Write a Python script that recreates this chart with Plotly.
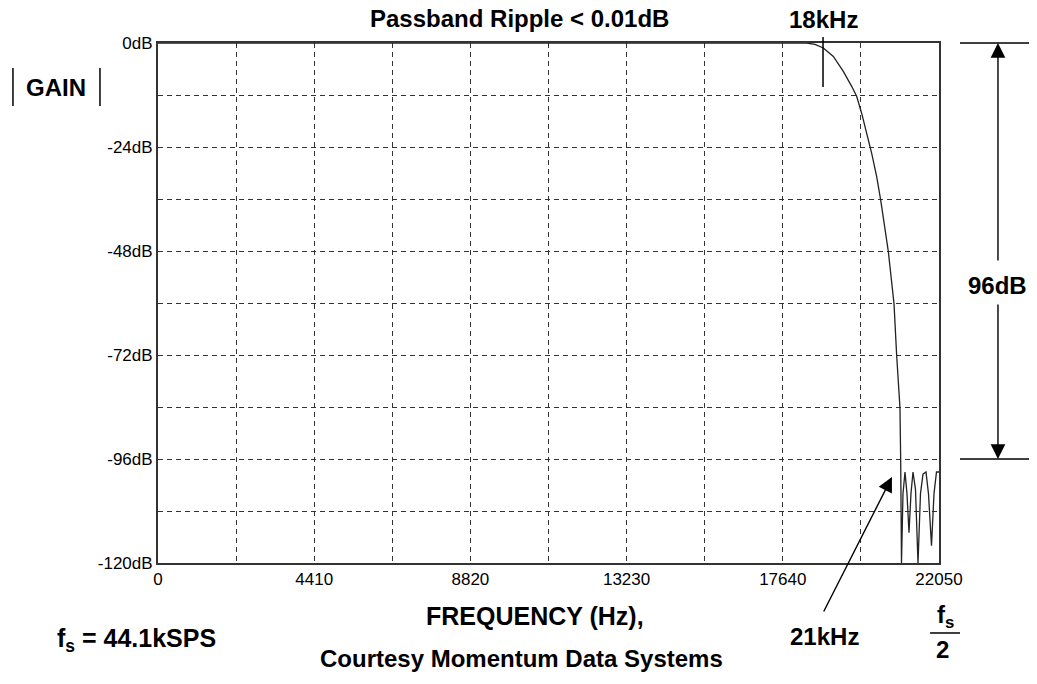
import plotly.graph_objects as go

# FIR lowpass response
freq_hz = [0, 17640, 18313, 18550, 18785, 19067, 19349, 19584, 19725, 19866,
           20007, 20148, 20289, 20403, 20619, 20780, 20855, 20948, 20968,
           20991, 21033, 21090, 21146, 21203, 21259, 21316, 21386, 21457,
           21527, 21598, 21683, 21753, 21838, 21909, 21979, 22050]
gain_db = [0, 0, 0, -0.3, -1.15, -3.1, -6.55, -10.0, -12.3, -16.2,
           -20.8, -25.4, -30.8, -36.2, -48.1, -60.2, -72.1, -84.2, -96.2,
           -120, -104, -99, -104, -113, -104, -99, -103, -120,
           -104, -99.5, -99, -104, -116, -104, -99, -99]

x_ticks = [0, 4410, 8820, 13230, 17640, 22050]
x_labels = [str(v) for v in x_ticks]
y_ticks = [0, -24, -48, -72, -96, -120]
y_labels = [f"{v}dB" for v in y_ticks]

bold = "Liberation Sans, Arial, sans-serif"
ink = "#222222"

fig = go.Figure()
fig.add_trace(go.Scatter(x=freq_hz, y=gain_db, mode="lines",
                         line=dict(color=ink, width=1.3), hoverinfo="skip"))

grid = dict(showgrid=True, gridcolor="#333333", gridwidth=1, griddash="5px,4px")
tick_font = dict(family=bold, size=17, color="black")
fig.update_xaxes(range=[0, 22050], tickvals=x_ticks, ticktext=x_labels, ticks="",
                 showline=True, linecolor="#333333", linewidth=2, mirror=True,
                 zeroline=False, tickfont=tick_font,
                 minor=dict(dtick=2205, tick0=0, **grid), **grid)
fig.update_yaxes(range=[-120, 0], tickvals=y_ticks, ticktext=y_labels, ticks="",
                 showline=True, linecolor="#333333", linewidth=2, mirror=True,
                 zeroline=False, tickfont=tick_font,
                 minor=dict(dtick=12, tick0=0, **grid), **grid)

def label(text, x, y, size=24, bg=None):
    fig.add_annotation(text=f"<b>{text}</b>", x=x, y=y, xref="paper", yref="paper",
                       xanchor="center", yanchor="middle", showarrow=False,
                       bgcolor=bg, font=dict(family=bold, size=size, color="black"))

label("Passband Ripple < 0.01dB", 0.4635, 1.048)
label("18kHz", 0.852, 1.046)
label("GAIN", -0.1306, 0.915)
label("FREQUENCY (Hz),", 0.4827, -0.1019, size=25)
label("Courtesy Momentum Data Systems", 0.466, -0.1827)
label("f<sub>s</sub> = 44.1kSPS", -0.0269, -0.148, size=25)
label("21kHz", 0.8528, -0.1404)
label("f<sub>s</sub>", 1.0077, -0.1038)
label("2", 1.0051, -0.1673)
label("96dB", 1.0755, 0.5346, bg="white")

line = dict(color="black", width=1.5)
shapes = [
    (0.8515, 1.0115, 0.8515, 0.9154),   # 18kHz marker
    (-0.1857, 0.952, -0.1857, 0.879),    # |GAIN| bars
    (-0.0743, 0.952, -0.0743, 0.879),
    (1.0269, 1.0, 1.1255, 1.0),          # 96dB dimension
    (1.0269, 0.2, 1.1255, 0.2),
    (0.9885, -0.1346, 1.0269, -0.1346),  # fs/2 fraction bar
]
for x0, y0, x1, y1 in shapes:
    fig.add_shape(type="line", xref="paper", yref="paper",
                  x0=x0, y0=y0, x1=x1, y1=y1, line=line)

arrows = [(1.0755, 1.0, 0, 219), (1.0755, 0.2, 0, -156), (0.9398, 0.1654, -69, 136)]
for x, y, ax, ay in arrows:
    fig.add_annotation(text="", x=x, y=y, xref="paper", yref="paper",
                       ax=ax, ay=ay, showarrow=True, arrowhead=2,
                       arrowsize=2.1, arrowwidth=1.4, arrowcolor="black")

# the page body adds an 8px offset, so the margins are shifted to compensate
fig.update_layout(width=1037, height=684, showlegend=False,
                  margin=dict(l=150, r=106, t=35, b=129),
                  paper_bgcolor="white", plot_bgcolor="white")

fig.write_html("out.html")
